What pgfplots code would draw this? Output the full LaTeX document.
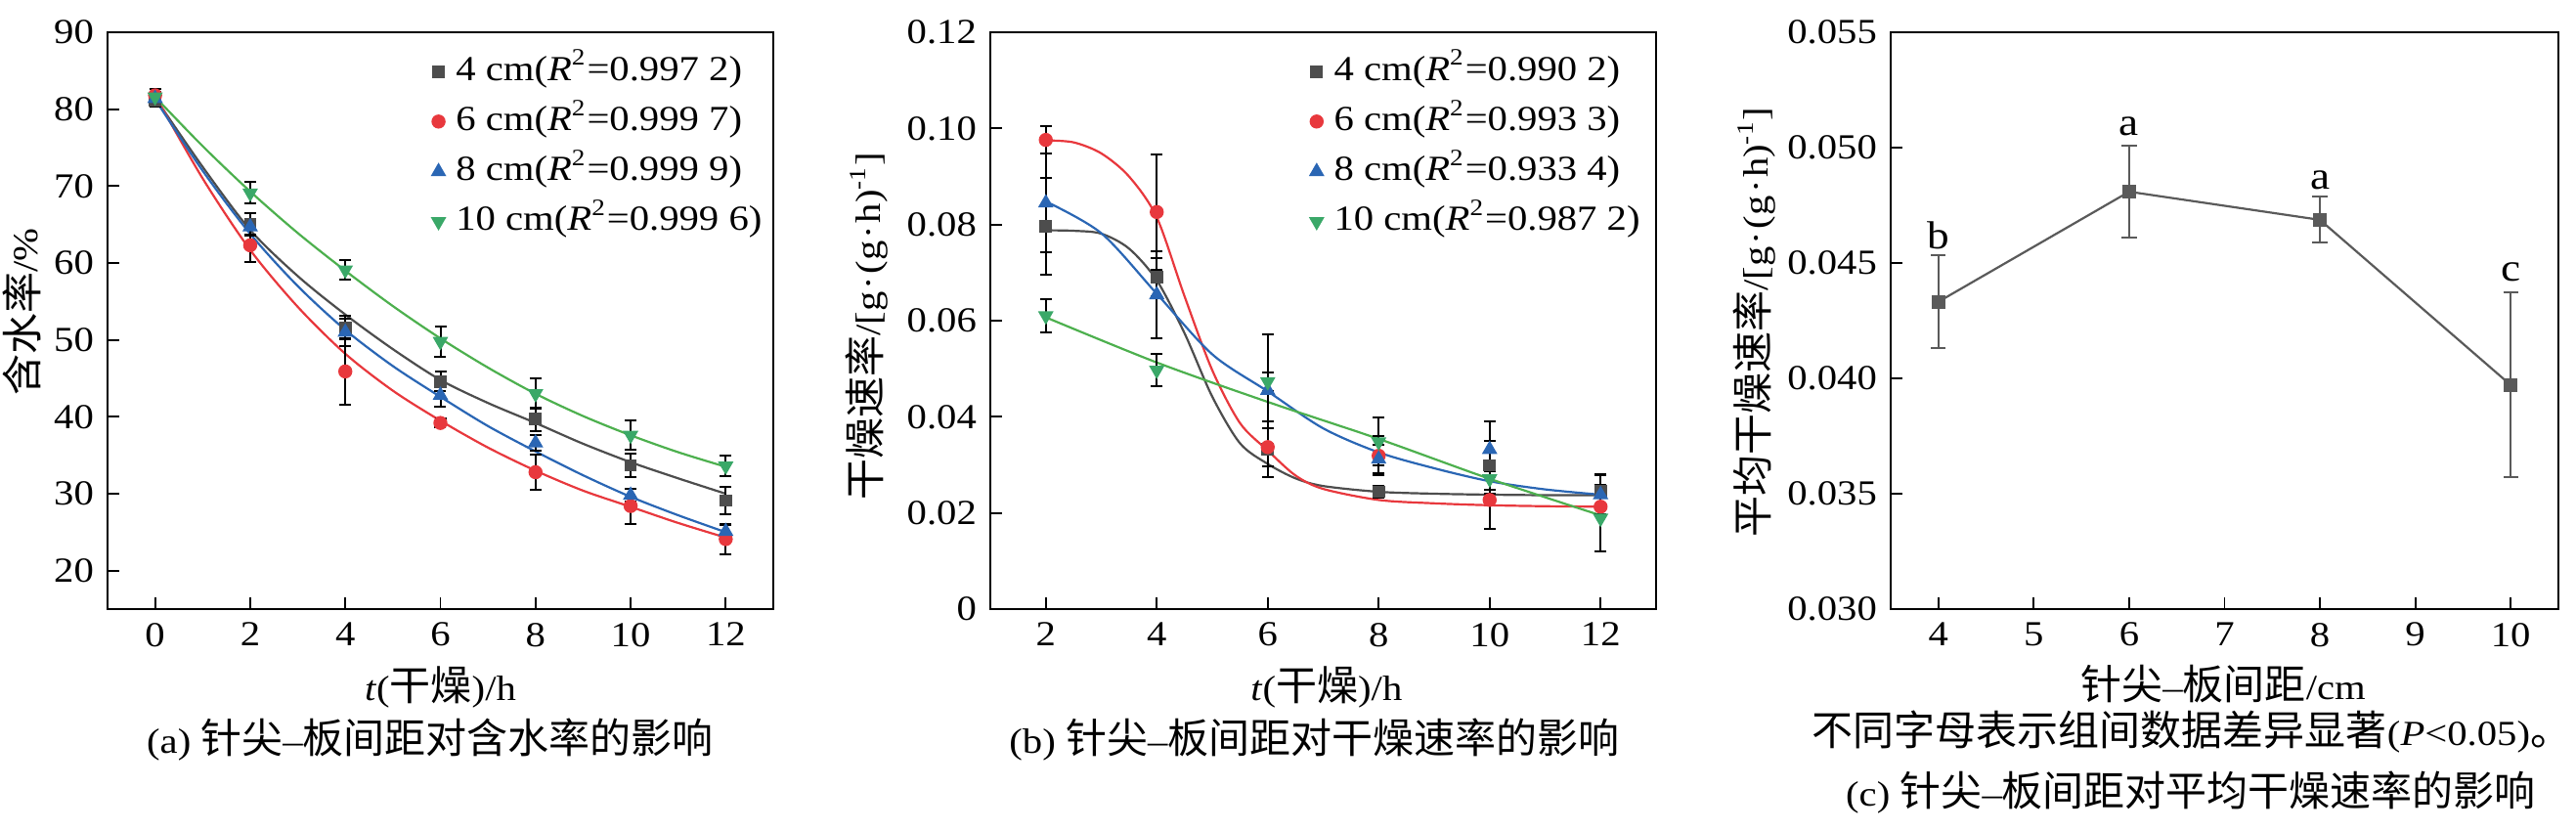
\documentclass[border=0pt]{standalone}
\usepackage{fontspec}
\setmainfont{Liberation Serif}[FakeStretch=1.13]
\newfontfamily\cjk{Noto Sans CJK SC}[Scale=1.1667]
\usepackage{pgfplots}
\pgfplotsset{compat=1.18}
\definecolor{cgray}{HTML}{4D4D4D}
\definecolor{cred}{HTML}{E8383D}
\definecolor{cblue}{HTML}{2A66B4}
\definecolor{cgreen}{HTML}{3AA868}
\definecolor{lgreen}{HTML}{4DB04E}
\definecolor{pgray}{HTML}{5A5A5A}
\pgfplotsset{
  panel/.style={
    scale only axis, width=170.25pt, height=147.5pt, anchor=south west,
    axis line style={line width=0.45pt},
    tick align=inside, tick pos=left, major tick length=3pt,
    every tick/.style={black, line width=0.45pt},
    tick label style={font=\fontsize{9}{10}\selectfont},
    scaled y ticks=false, scaled x ticks=false,
    /pgf/number format/assume math mode=true,
    label style={font=\fontsize{9}{11}\selectfont},
    legend cell align=left,
    legend style={draw=none, fill=none, font=\fontsize{9}{10}\selectfont, row sep=2.3pt, inner sep=0pt,
      nodes={inner sep=1pt, text height=6.5pt, text depth=2pt},
      /tikz/every odd column/.append style={column sep=1.8pt}},
  },
  ebar/.style={error bars/.cd, y dir=both, y explicit,
    error bar style={black, line width=0.5pt},
    error mark options={rotate=90, mark size=1.5pt, black, line width=0.5pt}},
  fitl/.style={line width=0.55pt, smooth, no markers, forget plot},
  lm/.style={legend image code/.code={\draw[mark repeat=2,mark phase=2,##1] plot coordinates {(0cm,0cm)(0.12cm,0cm)(0.24cm,0cm)};}},
}
\begin{document}
\begin{tikzpicture}
\path[use as bounding box] (0,0) rectangle (658.75pt,212.25pt);
% ---------------- panel a ----------------
\begin{axis}[panel, at={(27.5pt,56.5pt)},
  xmin=-1, xmax=13, ymin=15, ymax=90,
  xtick={0,2,...,12}, ytick={20,30,...,90},
  xlabel={\textit{t}({\cjk 干燥})/h}, ylabel={{\cjk 含水率}/\%},
  xlabel style={at={(axis description cs:0.5,-0.1356)}, anchor=center},
  ylabel style={at={(axis description cs:-0.128,0.515)}, anchor=center},
  legend style={at={(0.990,0.969)}, anchor=north east},
]
\addplot[fitl, cgray] coordinates {(0,81.5)(1,72.5)(2,64.3)(3,58.3)(4,53.3)(5,48.8)(6,44.8)(7,41.8)(8,39.2)(9,36.5)(10,34.1)(11,32.0)(12,30.0)};
\addplot[fitl, cred] coordinates {(0,81.8)(1,71.0)(2,61.7)(3,54.3)(4,48.2)(5,43.4)(6,39.5)(7,36.0)(8,33.0)(9,30.4)(10,28.3)(11,26.2)(12,24.3)};
\addplot[fitl, cblue] coordinates {(0,81.3)(1,72.0)(2,63.8)(3,57.0)(4,51.3)(5,46.6)(6,42.6)(7,38.8)(8,35.5)(9,32.4)(10,29.6)(11,27.2)(12,25.0)};
\addplot[fitl, lgreen] coordinates {(0,81.6)(1,75.2)(2,69.3)(3,63.9)(4,59.0)(5,54.4)(6,50.2)(7,46.4)(8,43.0)(9,40.1)(10,37.6)(11,35.4)(12,33.5)};
\addplot[only marks, mark=square*, mark size=1.4pt, cgray, lm, ebar] coordinates {
 (0,81.1) +- (0,0.8) (2,65.0) +- (0,1.5) (4,51.6) +- (0,1.5) (6,44.6) +- (0,1.3) (8,39.7) +- (0,1.5) (10,33.7) +- (0,1.5) (12,29.1) +- (0,1.8)};
\addlegendentry{4 cm(\textit{R}\textsuperscript{2}=0.997 2)}
\addplot[only marks, mark=*, mark size=1.6pt, cred, lm, ebar] coordinates {
 (0,81.8) +- (0,0.8) (2,62.3) +- (0,2.2) (4,45.9) +- (0,4.3) (6,39.2) +- (0,0.6) (8,32.8) +- (0,2.3) (10,28.4) +- (0,2.3) (12,24.1) +- (0,2.0)};
\addlegendentry{6 cm(\textit{R}\textsuperscript{2}=0.999 7)}
\addplot[only marks, mark=triangle*, mark size=1.9pt, cblue, lm, ebar] coordinates {
 (0,81.4) +- (0,0.6) (2,64.7) +- (0,1.0) (4,51.0) +- (0,1.8) (6,42.8) +- (0,1.5) (8,36.6) +- (0,1.0) (10,29.8) +- (0,0.8) (12,25.1) +- (0,0.8)};
\addlegendentry{8 cm(\textit{R}\textsuperscript{2}=0.999 9)}
\addplot[only marks, mark=triangle*, mark options={rotate=180}, mark size=1.9pt, cgreen, lm, ebar] coordinates {
 (0,81.6) +- (0,0.6) (2,69.1) +- (0,1.4) (4,59.1) +- (0,1.3) (6,49.8) +- (0,2.0) (8,43.0) +- (0,2.0) (10,37.6) +- (0,1.9) (12,33.6) +- (0,1.3)};
\addlegendentry{10 cm(\textit{R}\textsuperscript{2}=0.999 6)}
\end{axis}
% ---------------- panel b ----------------
\begin{axis}[panel, at={(253.25pt,56.5pt)},
  xmin=1, xmax=13, ymin=0, ymax=0.12,
  xtick={2,4,...,12}, ytick={0,0.02,0.04,0.06,0.08,0.10,0.12},
  yticklabels={0,0.02,0.04,0.06,0.08,0.10,0.12},
  xlabel={\textit{t}({\cjk 干燥})/h}, ylabel={{\cjk 干燥速率}/[g\kern0.6pt·\kern0.6pt(g\kern0.6pt·\kern0.6pt h)\textsuperscript{-1}]},
  xlabel style={at={(axis description cs:0.505,-0.1356)}, anchor=center},
  ylabel style={at={(axis description cs:-0.185,0.49)}, anchor=center},
  legend style={at={(0.983,0.969)}, anchor=north east},
]
\addplot[fitl, cgray] coordinates {(2,0.0788)(2.5,0.0787)(3,0.0781)(3.5,0.0750)(4,0.0684)(4.5,0.0574)(5,0.0442)(5.5,0.0345)(6,0.0302)(6.5,0.0272)(7,0.0256)(8,0.0244)(9,0.0240)(10,0.0238)(11,0.0237)(12,0.0237)};
\addplot[fitl, cred] coordinates {(2,0.0975)(2.5,0.0971)(3,0.0948)(3.5,0.0900)(4,0.0815)(4.5,0.0651)(5,0.0497)(5.5,0.0387)(6,0.0330)(6.5,0.0278)(7,0.0250)(8,0.0227)(9,0.0220)(10,0.0216)(11,0.0214)(12,0.0213)};
\addplot[fitl, cblue] coordinates {(2,0.0848)(3,0.0782)(4,0.0656)(5,0.0530)(6,0.0453)(7,0.0376)(8,0.0326)(9,0.0293)(10,0.0266)(11,0.0249)(12,0.0238)};
\addplot[fitl, lgreen] coordinates {(2,0.0607)(4,0.0513)(6,0.0431)(8,0.0354)(10,0.0271)(12,0.0195)};
\addplot[only marks, mark=square*, mark size=1.4pt, cgray, lm, ebar] coordinates {
 (2,0.0796) +- (0,0.0100) (4,0.0691) +- (0,0.0040) (6,0.0332) +- (0,0.0058) (8,0.0244) +- (0,0.0012) (10,0.0299) +- (0,0.0050) (12,0.0246) +- (0,0.0035)};
\addlegendentry{4 cm(\textit{R}\textsuperscript{2}=0.990 2)}
\addplot[only marks, mark=*, mark size=1.6pt, cred, lm, ebar] coordinates {
 (2,0.0976) +- (0,0.0029) (4,0.0826) +- (0,0.0120) (6,0.0337) +- (0,0.0040) (8,0.0319) +- (0,0.0040) (10,0.0227) +- (0,0.0060) (12,0.0213) +- (0,0.0020)};
\addlegendentry{6 cm(\textit{R}\textsuperscript{2}=0.993 3)}
\addplot[only marks, mark=triangle*, mark size=1.9pt, cblue, lm, ebar] coordinates {
 (2,0.0845) +- (0,0.0103) (4,0.0654) +- (0,0.0090) (6,0.0455) +- (0,0.0116) (8,0.0312) +- (0,0.0030) (10,0.0332) +- (0,0.0058) (12,0.0238) +- (0,0.0040)};
\addlegendentry{8 cm(\textit{R}\textsuperscript{2}=0.933 4)}
\addplot[only marks, mark=triangle*, mark options={rotate=180}, mark size=1.9pt, cgreen, lm, ebar] coordinates {
 (2,0.0610) +- (0,0.0034) (4,0.0497) +- (0,0.0033) (6,0.0473) +- (0,0.0020) (8,0.0348) +- (0,0.0050) (10,0.0271) +- (0,0.0030) (12,0.0189) +- (0,0.0070)};
\addlegendentry{10 cm(\textit{R}\textsuperscript{2}=0.987 2)}
\end{axis}
% ---------------- panel c ----------------
\begin{axis}[panel, at={(483.5pt,56.5pt)}, width=170.75pt,
  xmin=3.5, xmax=10.5, ymin=0.030, ymax=0.055,
  xtick={4,5,...,10}, ytick={0.030,0.035,0.040,0.045,0.050,0.055},
  yticklabels={0.030,0.035,0.040,0.045,0.050,0.055},
  xlabel={{\cjk 针尖}–{\cjk 板间距}/cm}, ylabel={{\cjk 平均干燥速率}/[g\kern0.6pt·\kern0.6pt(g\kern0.6pt·\kern0.6pt h)\textsuperscript{-1}]},
  xlabel style={at={(axis description cs:0.498,-0.1305)}, anchor=center},
  ylabel style={at={(axis description cs:-0.2035,0.497)}, anchor=center},
]
\addplot[pgray, line width=0.55pt, mark=square*, mark size=1.5pt,
  error bars/.cd, y dir=both, y explicit,
  error bar style={pgray, line width=0.5pt},
  error mark options={rotate=90, mark size=1.9pt, pgray, line width=0.5pt}] coordinates {
 (4,0.04332) +- (0,0.0020) (6,0.04809) +- (0,0.0020) (8,0.04687) +- (0,0.0010) (10,0.03971) +- (0,0.0040)};
\node[font=\fontsize{10}{11}\selectfont] at (axis cs:4,0.0462) {b};
\node[font=\fontsize{10}{11}\selectfont] at (axis cs:6,0.0509) {a};
\node[font=\fontsize{10}{11}\selectfont] at (axis cs:8,0.0486) {a};
\node[font=\fontsize{10}{11}\selectfont] at (axis cs:10,0.0446) {c};
\end{axis}
% ---------------- captions ----------------
\node[font=\fontsize{9}{10}\selectfont] at (110pt,23pt) {(a) {\cjk 针尖}–{\cjk 板间距对含水率的影响}};
\node[font=\fontsize{9}{10}\selectfont] at (336.1pt,23pt) {(b) {\cjk 针尖}–{\cjk 板间距对干燥速率的影响}};
\node[font=\fontsize{9}{10}\selectfont] at (560.5pt,25pt) {{\cjk 不同字母表示组间数据差异显著}(\textit{P}<0.05){\cjk 。}};
\node[font=\fontsize{9}{10}\selectfont] at (560.25pt,9.5pt) {(c) {\cjk 针尖}–{\cjk 板间距对平均干燥速率的影响}};
\end{tikzpicture}
\end{document}
